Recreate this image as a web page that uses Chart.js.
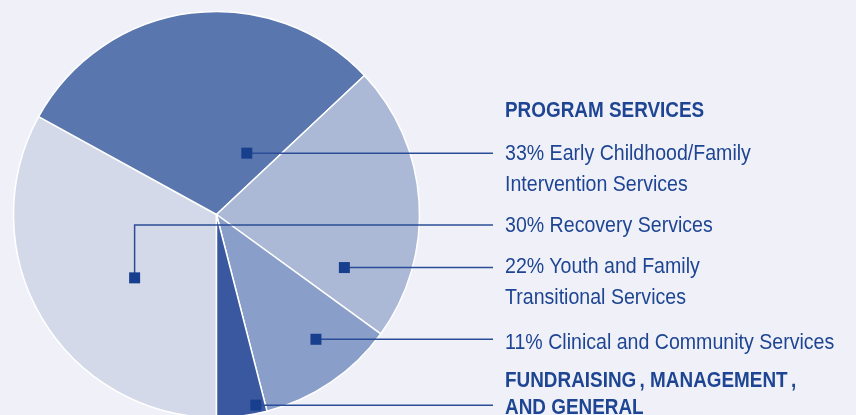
<!DOCTYPE html>
<html>
<head>
<meta charset="utf-8">
<script src="https://cdn.jsdelivr.net/npm/chart.js@4"></script>
<style>
    html, body {
        margin: 0;
        padding: 0;
        width: 856px;
        height: 415px;
        overflow: hidden;
        background: #f0f1f8;
    }
    #wrap {
        position: relative;
        width: 856px;
        height: 415px;
        overflow: hidden;
    }
    #pie {
        position: absolute;
        left: 0;
        top: 0;
    }
    .lbl {
        position: absolute;
        left: 505px;
        white-space: nowrap;
        font-family: "Liberation Sans", Arial, sans-serif;
        font-size: 22.5px;
        line-height: 22.5px;
        color: #1e4593;
        transform-origin: 0 0;
        transform: scaleX(0.87);
    }
    .lbl.head {
        font-weight: bold;
        transform: scaleX(0.84);
    }
    .lbl .comma {
        margin-left: 4px;
    }
</style>
</head>
<body>
<div id="wrap">
    <canvas id="pie" width="856" height="430"></canvas>
    <div id="labels"></div>
</div>
<script>
// slices clockwise starting from the bottom of the pie
let slice_values = [33, 30, 22, 11, 4];
let slice_colors = ['#d3d9e8', '#5a76ae', '#abb9d6', '#899ec9', '#3a589f'];
let slice_names = [
    'Recovery Services',
    'Early Childhood/Family Intervention Services',
    'Youth and Family Transitional Services',
    'Clinical and Community Services',
    'Fundraising, Management, and General'
];

// text on the right, one entry per line, with its baseline
let label_lines = [
    ['PROGRAM SERVICES', 118.3, true],
    ['33% Early Childhood/Family', 160.7, false],
    ['Intervention Services', 191.7, false],
    ['30% Recovery Services', 233.3, false],
    ['22% Youth and Family', 274, false],
    ['Transitional Services', 305.5, false],
    ['11% Clinical and Community Services', 350, false],
    ['FUNDRAISING, MANAGEMENT,', 388.3, true],
    ['AND GENERAL', 414.8, true]
];

// where the little square sits inside each slice (share of the slice angle, share of the radius)
let marker_angle = [0.44, 0.81, 0.83, 0.39, 0.19];
let marker_radius = [0.51, 0.337, 0.682, 0.786, 0.959];
// leader goes straight right unless it has to bend up to its label
let leader_bend = [225, null, null, null, null];
let leader_end = 493;

let labels = document.getElementById('labels');
for (i = 0; i < label_lines.length; i++) {
    let d = document.createElement('div');
    d.className = label_lines[i][2] ? 'lbl head' : 'lbl';
    let parts = label_lines[i][0].split(',');
    for (j = 0; j < parts.length; j++) {
        if (j > 0) {
            let c = document.createElement('span');
            c.className = 'comma';
            c.textContent = ',';
            d.appendChild(c);
        }
        d.appendChild(document.createTextNode(parts[j]));
    }
    d.style.top = (label_lines[i][1] - 19.1) + 'px';
    labels.appendChild(d);
}

let leaders = {
    id: 'leaders',
    afterDatasetsDraw: function (chart) {
        let ctx = chart.ctx;
        let arcs = chart.getDatasetMeta(0).data;
        ctx.save();
        for (i = 0; i < arcs.length; i++) {
            let a = arcs[i];
            let ang = a.startAngle + (a.endAngle - a.startAngle) * marker_angle[i];
            let r = a.outerRadius * marker_radius[i];
            let mx = a.x + r * Math.cos(ang);
            let my = a.y + r * Math.sin(ang);

            ctx.strokeStyle = '#2b4d97';
            ctx.lineWidth = 1.5;
            ctx.beginPath();
            ctx.moveTo(mx, my);
            if (leader_bend[i] != null) {
                ctx.lineTo(mx, leader_bend[i]);
                ctx.lineTo(leader_end, leader_bend[i]);
            }
            else {
                ctx.lineTo(leader_end, my);
            }
            ctx.stroke();

            ctx.fillStyle = '#183f8e';
            ctx.fillRect(mx - 5.5, my - 5.5, 11, 11);
        }
        ctx.restore();
    }
};

let pie = new Chart(document.getElementById('pie').getContext('2d'), {
    type: 'pie',
    data: {
        labels: slice_names,
        datasets: [{
            data: slice_values,
            backgroundColor: slice_colors,
            borderColor: '#ffffff',
            borderWidth: 1.5
        }]
    },
    options: {
        responsive: false,
        animation: false,
        rotation: 180,
        layout: {
            padding: { left: 12.75, top: 10.75, right: 435.75, bottom: 11.75 }
        },
        plugins: {
            legend: { display: false },
            tooltip: { enabled: false }
        }
    },
    plugins: [leaders]
});
</script>
</body>
</html>
